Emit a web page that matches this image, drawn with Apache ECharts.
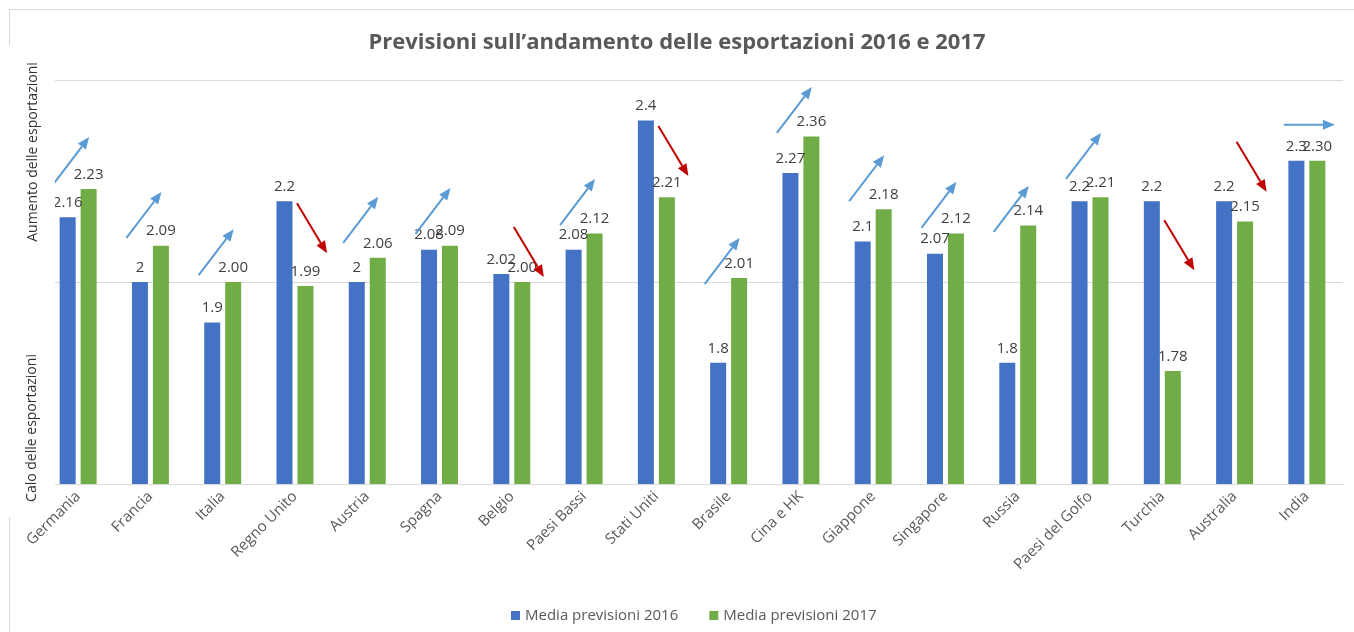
<!DOCTYPE html>
<html>
<head>
<meta charset="utf-8">
<title>Previsioni esportazioni</title>
<script src="https://cdn.jsdelivr.net/npm/echarts@6/dist/echarts.min.js"></script>
<style>
    html, body { margin: 0; padding: 0; background: #fff; }
    #chart { width: 1354px; height: 632px; }
</style>
</head>
<body>
<div id="chart"></div>
<script>
var categories = ["Germania", "Francia", "Italia", "Regno Unito", "Austria", "Spagna", "Belgio", "Paesi Bassi", "Stati Uniti",
    "Brasile", "Cina e HK", "Giappone", "Singapore", "Russia", "Paesi del Golfo", "Turchia", "Australia", "India"];
var prev2016 = [2.16, 2, 1.9, 2.2, 2, 2.08, 2.02, 2.08, 2.4, 1.8, 2.27, 2.1, 2.07, 1.8, 2.2, 2.2, 2.2, 2.3];
var prev2017 = [2.23, 2.09, 2.00, 1.99, 2.06, 2.09, 2.00, 2.12, 2.21, 2.01, 2.36, 2.18, 2.12, 2.14, 2.21, 1.78, 2.15, 2.30];
// level (in axis units) where each trend arrow starts
var arrowLevel = [2.245, 2.109, 2.017, 2.195, 2.097, 2.119, 2.136, 2.141, 2.386, 1.995, 2.369, 2.2, 2.134, 2.124, 2.255, 2.153, 2.347, 2.389];

var FONT = "Open Sans";

// arrow data: [category index, start level, direction]
var arrowData = [];
for (var i = 0; i < categories.length; i++) {
    var d = prev2017[i] - prev2016[i];
    arrowData.push([i, arrowLevel[i], d > 0.001 ? 1 : (d < -0.001 ? -1 : 0)]);
}

var renderArrow = function (params, api) {
    var p = api.coord([api.value(0), api.value(1)]);
    var dir = api.value(2);
    var x0, y0, x1, y1, color;
    if (dir > 0) {
        x0 = p[0] - 24; y0 = p[1]; x1 = x0 + 35; y1 = y0 - 46; color = "#5B9BD5";
    } else if (dir < 0) {
        x0 = p[0] + 2; y0 = p[1]; x1 = x0 + 30; y1 = y0 + 50; color = "#C00000";
    } else {
        x0 = p[0] - 23; y0 = p[1]; x1 = x0 + 51; y1 = y0; color = "#5B9BD5";
    }
    var len = Math.sqrt((x1 - x0) * (x1 - x0) + (y1 - y0) * (y1 - y0));
    var ux = (x1 - x0) / len, uy = (y1 - y0) / len;
    var head = 12, half = 5;
    var bx = x1 - ux * head, by = y1 - uy * head;
    return {
        type: "group",
        children: [{
            type: "line",
            shape: { x1: x0, y1: y0, x2: bx, y2: by },
            style: { stroke: color, lineWidth: 2 }
        }, {
            type: "polygon",
            shape: { points: [[x1, y1], [bx - uy * half, by + ux * half], [bx + uy * half, by - ux * half]] },
            style: { fill: color }
        }]
    };
};

var myChart = echarts.init(document.getElementById("chart"));
var option = {
    backgroundColor: "#fff",
    animation: false,
    textStyle: { fontFamily: FONT },
    title: {
        text: "Previsioni sull’andamento delle esportazioni 2016 e 2017",
        left: "center",
        top: 27,
        textStyle: { fontFamily: FONT, fontSize: 22, fontWeight: "bold", color: "#595959" }
    },
    legend: {
        data: ["Media previsioni 2016", "Media previsioni 2017"],
        top: 603,
        left: 506,
        icon: "rect",
        itemWidth: 9,
        itemHeight: 9,
        itemGap: 31,
        textStyle: { fontFamily: FONT, fontSize: 15, color: "#595959" }
    },
    grid: { left: 42, right: 11, top: 80, bottom: 148 },
    xAxis: {
        type: "category",
        data: categories,
        axisTick: { show: false },
        axisLine: { lineStyle: { color: "#d9d9d9", width: 1 } },
        axisLabel: { rotate: 45, interval: 0, fontSize: 15, color: "#595959", margin: 10, fontFamily: FONT }
    },
    yAxis: {
        type: "value",
        min: 1.5,
        max: 2.5,
        interval: 0.5,
        axisLabel: { show: false },
        axisLine: { show: false },
        axisTick: { show: false },
        splitLine: { lineStyle: { color: "#d9d9d9", width: 1 } }
    },
    graphic: [
        { type: "rect", shape: { x: 9.5, y: 9.5, width: 1400, height: 700 }, style: { fill: null, stroke: "#d9d9d9", lineWidth: 1 }, z: 90 },
        // white box behind the axis titles (hides the left end of the grid lines, as in the original)
        { type: "rect", shape: { x: 0, y: 45, width: 55, height: 445 }, style: { fill: "#fff" }, z: 100 },
        { type: "rect", shape: { x: 0, y: 45, width: 15, height: 472 }, style: { fill: "#fff" }, z: 100 },
        {
            type: "text", x: 33, y: 152, rotation: Math.PI / 2, z: 101,
            style: { text: "Aumento delle esportazioni", fill: "#333", font: "14px " + FONT, align: "center", verticalAlign: "middle" }
        },
        {
            type: "text", x: 32, y: 428, rotation: Math.PI / 2, z: 101,
            style: { text: "Calo delle esportazioni", fill: "#333", font: "14px " + FONT, align: "center", verticalAlign: "middle" }
        }
    ],
    series: [{
        name: "Media previsioni 2016",
        type: "bar",
        data: prev2016,
        barWidth: 16,
        barGap: "31%",
        itemStyle: { color: "#4472C4" },
        label: { show: true, position: "top", distance: 7, fontSize: 15, color: "#404040", fontFamily: FONT }
    }, {
        name: "Media previsioni 2017",
        type: "bar",
        data: prev2017,
        barWidth: 16,
        itemStyle: { color: "#70AD47" },
        label: {
            show: true, position: "top", distance: 7, fontSize: 15, color: "#404040", fontFamily: FONT,
            formatter: function (p) { return p.value.toFixed(2); }
        }
    }, {
        name: "trend",
        type: "custom",
        renderItem: renderArrow,
        data: arrowData,
        z: 5,
        silent: true
    }]
};
myChart.setOption(option);
</script>
</body>
</html>
